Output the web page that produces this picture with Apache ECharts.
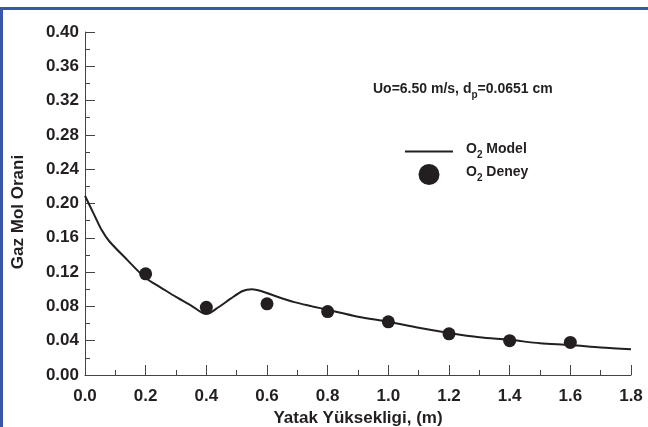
<!DOCTYPE html>
<html>
<head>
<meta charset="utf-8">
<script src="https://cdn.jsdelivr.net/npm/echarts@6/dist/echarts.min.js"></script>
<style>
  html, body { margin: 0; padding: 0; background: #fff; }
  #chart { width: 648px; height: 427px; }
</style>
</head>
<body>
<div id="chart"></div>
<script>
// model curve (O2 Model)
const modelX = [0, 0.03, 0.055, 0.08, 0.14, 0.2, 0.25, 0.3, 0.35, 0.4, 0.44, 0.48, 0.52, 0.55, 0.58, 0.62, 0.69, 0.75, 0.8, 0.9, 1.0, 1.1, 1.2, 1.3, 1.4, 1.5, 1.6, 1.7, 1.8];
const modelY = [0.209, 0.187, 0.169, 0.156, 0.134, 0.113, 0.102, 0.091, 0.081, 0.071, 0.079, 0.089, 0.098, 0.100, 0.098, 0.093, 0.085, 0.080, 0.076, 0.068, 0.062, 0.055, 0.049, 0.044, 0.041, 0.037, 0.035, 0.032, 0.030];

// measured points (O2 Deney)
const deneyX = [0.2, 0.4, 0.6, 0.8, 1.0, 1.2, 1.4, 1.6];
const deneyY = [0.118, 0.079, 0.083, 0.074, 0.062, 0.048, 0.040, 0.038];

const xTitle = 'Yatak Yüksekligi, (m)';
const yTitle = 'Gaz Mol Orani';
const note = '{a|Uo=6.50 m/s, d}{s|p}{a|=0.0651 cm}';

const FONT = "'Liberation Sans', Arial, Helvetica, sans-serif";
const INK = '#231f20';
const AXIS = '#444';

const chart = echarts.init(document.getElementById('chart'), null, { renderer: 'canvas' });

// subscript: main text hangs from the top of the line, the small one sits on its bottom
const richSub = {
    a: { fontFamily: FONT, fontWeight: 'bold', fontSize: 14, color: INK, lineHeight: 14, verticalAlign: 'top' },
    s: { fontFamily: FONT, fontWeight: 'bold', fontSize: 10, color: INK, lineHeight: 18, verticalAlign: 'bottom' }
};

const axisCommon = {
    type: 'value',
    axisLine: { show: true, lineStyle: { color: AXIS, width: 1 } },
    axisTick: { show: true, inside: true, length: 10, lineStyle: { color: AXIS } },
    minorTick: { show: true, splitNumber: 2, length: 5, lineStyle: { color: AXIS } },
    splitLine: { show: false },
    axisLabel: { color: INK, fontFamily: FONT, fontWeight: 'bold', fontSize: 17 }
};

const option = {
    animation: false,
    backgroundColor: '#fff',
    textStyle: { fontFamily: FONT },
    grid: { left: 85, right: 17, top: 32, bottom: 52, containLabel: false, outerBoundsMode: 'none' },
    xAxis: Object.assign({}, axisCommon, {
        min: 0, max: 1.8, interval: 0.2,
        name: xTitle,
        nameLocation: 'middle',
        nameGap: 32,
        nameTextStyle: { color: INK, fontFamily: FONT, fontWeight: 'bold', fontSize: 17 },
        axisLabel: Object.assign({}, axisCommon.axisLabel, {
            margin: 13,
            formatter: v => v.toFixed(1)
        })
    }),
    yAxis: Object.assign({}, axisCommon, {
        min: 0, max: 0.4, interval: 0.04,
        axisLabel: Object.assign({}, axisCommon.axisLabel, {
            margin: 6,
            formatter: v => v.toFixed(2)
        })
    }),
    legend: {
        orient: 'vertical',
        left: 400,
        top: 136,
        itemWidth: 48,
        itemHeight: 21,
        itemGap: 2,
        data: [
            { name: 'O2 Model', icon: 'path://M0,0L0,0M0,9.5L48,9.5L48,11.5L0,11.5ZM48,21L48,21' },
            { name: 'O2 Deney', icon: 'circle' }
        ],
        formatter: name => name === 'O2 Model' ? '{a|O}{s|2}{a| Model}' : '{a|O}{s|2}{a| Deney}',
        textStyle: {
            padding: [0, 0, 0, 8],
            rich: richSub
        }
    },
    graphic: [
        { type: 'rect', shape: { x: 0, y: 7, width: 648, height: 3 }, style: { fill: '#3a56aa' }, silent: true },
        { type: 'rect', shape: { x: 0, y: 7, width: 3, height: 420 }, style: { fill: '#3a56aa' }, silent: true },
        {
            type: 'text', left: 373, top: 82,
            style: {
                text: note,
                rich: {
                    a: Object.assign({}, richSub.a, { fill: INK }),
                    s: Object.assign({}, richSub.s, { fill: INK })
                }
            }
        },
        {
            type: 'text', x: 18, y: 212, rotation: Math.PI / 2,
            style: {
                text: yTitle, fill: INK, align: 'center', verticalAlign: 'middle',
                font: 'bold 17px ' + FONT
            }
        }
    ],
    series: [
        {
            name: 'O2 Model',
            type: 'line',
            data: modelX.map((x, i) => [x, modelY[i]]),
            showSymbol: false,
            symbol: 'none',
            smooth: 0.3,
            lineStyle: { color: INK, width: 2 },
            itemStyle: { color: INK },
            z: 2
        },
        {
            name: 'O2 Deney',
            type: 'scatter',
            data: deneyX.map((x, i) => [x, deneyY[i]]),
            symbol: 'circle',
            symbolSize: 13,
            itemStyle: { color: INK, opacity: 1 },
            z: 3
        }
    ]
};

chart.setOption(option);
window.addEventListener('resize', () => chart.resize());
</script>
</body>
</html>
